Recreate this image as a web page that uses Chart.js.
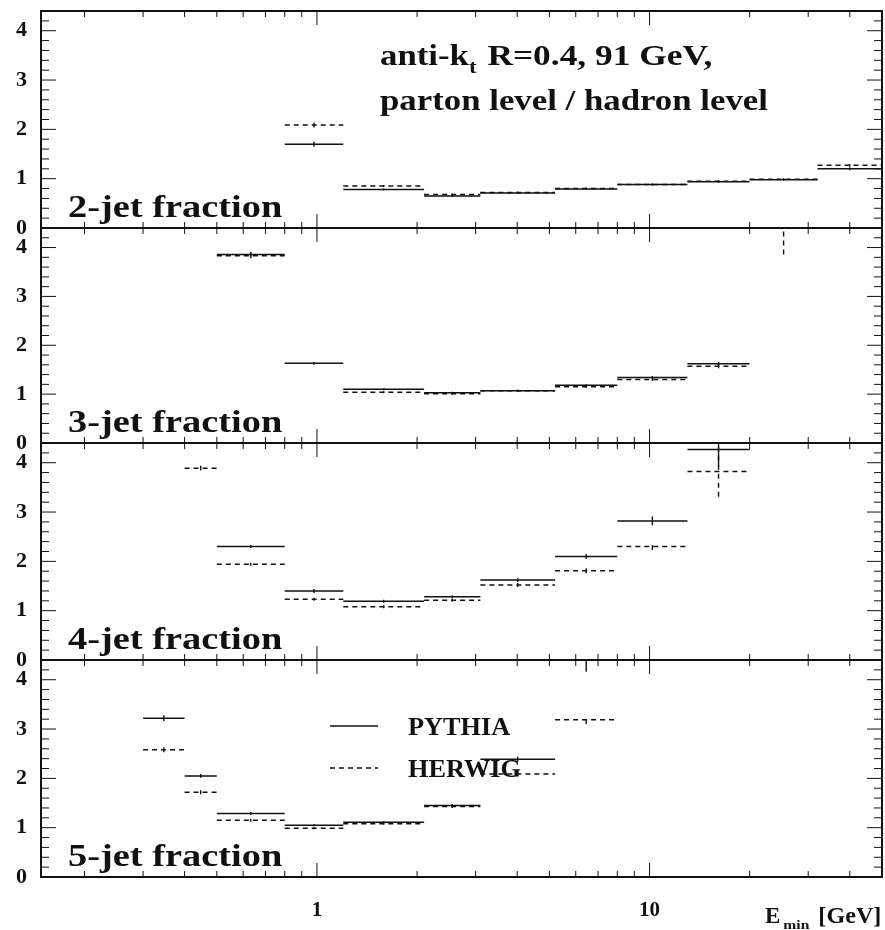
<!DOCTYPE html>
<html>
<head>
<meta charset="utf-8">
<script src="https://cdn.jsdelivr.net/npm/chart.js"></script>
<style>
  body { margin: 0; background: #fff; }
  #wrap { position: relative; width: 885px; height: 930px; }
  #wrap canvas { position: absolute; left: 0; }
</style>
</head>
<body>
<div id="wrap">
  <canvas id="c2"></canvas>
  <canvas id="c3"></canvas>
  <canvas id="c4"></canvas>
  <canvas id="c5"></canvas>
</div>
<script>
  // E_min bin edges in GeV
  const edges = [0.3, 0.4, 0.5, 0.8, 1.2, 2.1, 3.1, 5.2, 8, 13, 20, 32, 50];

  // parton level / hadron level ratios per bin (null = nothing drawn)
  const pythia2 = [null, null, null, 1.70, 0.78, 0.65, 0.71, 0.79, 0.88, 0.94, 0.98, 1.20];
  const herwig2 = [null, null, null, 2.09, 0.85, 0.68, 0.72, 0.80, 0.88, 0.95, 0.99, 1.27];
  const pythia3 = [null, null, 3.86, 1.63, 1.10, 1.03, 1.07, 1.18, 1.34, 1.62, null, null];
  const herwig3 = [null, null, 3.83, null, 1.04, 1.01, 1.07, 1.15, 1.30, 1.57, 4.70, null];
  const pythia4 = [null, null, 2.30, 1.40, 1.19, 1.28, 1.62, 2.10, 2.82, 4.27, null, null];
  const herwig4 = [null, 3.89, 1.94, 1.23, 1.08, 1.21, 1.52, 1.81, 2.30, 3.82, null, null];
  const pythia5 = [3.22, 2.05, 1.29, 1.05, 1.11, 1.45, 2.39, 4.40, null, 0, 0, 0];
  const herwig5 = [2.58, 1.72, 1.15, 0.99, 1.08, 1.43, 2.09, 3.19, null, 0, 0, 0];

  // statistical errors
  const pythiaErr2 = [0, 0, 0, 0.05, 0.02, 0.02, 0.02, 0.02, 0.02, 0.02, 0.02, 0.03];
  const herwigErr2 = [0, 0, 0, 0.05, 0.02, 0.02, 0.02, 0.02, 0.02, 0.02, 0.02, 0.03];
  const pythiaErr3 = [0, 0, 0.05, 0.03, 0.02, 0.02, 0.02, 0.02, 0.03, 0.04, 0, 0];
  const herwigErr3 = [0, 0, 0.05, 0, 0.02, 0.02, 0.02, 0.02, 0.03, 0.04, 0.84, 0];
  const pythiaErr4 = [0, 0, 0.03, 0.04, 0.03, 0.03, 0.04, 0.05, 0.09, 0.35, 0, 0];
  const herwigErr4 = [0, 0.05, 0.03, 0.03, 0.03, 0.03, 0.04, 0.05, 0.07, 0.51, 0, 0];
  const pythiaErr5 = [0.06, 0.04, 0.03, 0.02, 0.02, 0.03, 0.05, 0.24, 0, 0, 0, 0];
  const herwigErr5 = [0.05, 0.04, 0.03, 0.02, 0.02, 0.03, 0.05, 0.09, 0, 0, 0, 0];

  const yTickValues = [0, 1, 2, 3, 4];
  const xTickValues = [1, 10];
  const xMinorValues = [0.2, 0.3, 0.4, 0.5, 0.6, 0.7, 0.8, 0.9, 1, 2, 3, 4, 5, 6, 7, 8, 9, 10, 20, 30, 40];

  const INK = '#111';
  const SERIF = "'Liberation Serif', 'Times New Roman', serif";
  const DASH = [5, 4];

  // panel frame edges on the page
  const panelTop = [11, 228, 443, 660];
  const panelBottom = [228, 443, 660, 877];
  const PAD = 14;

  // horizontal bin segments, broken between bins
  function histPoints(vals) {
    const pts = [];
    vals.forEach((v, i) => {
      if (v === null) return;
      pts.push({ x: edges[i], y: v }, { x: edges[i + 1], y: v }, { x: edges[i + 1], y: null });
    });
    return pts;
  }

  function stretchText(ctx, text, x, y, size, sx) {
    ctx.save();
    ctx.font = 'bold ' + size + 'px ' + SERIF;
    ctx.translate(x, y);
    ctx.scale(sx, 1);
    ctx.fillText(text, 0, 0);
    const w = ctx.measureText(text).width * sx;
    ctx.restore();
    return w;
  }

  // frame with inward ticks on all four sides
  const frameTicks = {
    id: 'frameTicks',
    afterDraw(chart) {
      const { ctx, chartArea: a } = chart;
      const xs = chart.scales.x, ys = chart.scales.y;
      ctx.save();
      ctx.strokeStyle = INK;
      ctx.lineWidth = 1;
      ctx.beginPath();
      for (let k = 0; k <= 22; k++) {
        const v = k / 5;
        const y = ys.getPixelForValue(v);
        const len = k % 5 === 0 ? 15 : 8;
        ctx.moveTo(a.left, y); ctx.lineTo(a.left + len, y);
        ctx.moveTo(a.right, y); ctx.lineTo(a.right - len, y);
      }
      xMinorValues.forEach(v => {
        const x = xs.getPixelForValue(v);
        const len = (v === 1 || v === 10) ? 14 : 6;
        ctx.moveTo(x, a.top); ctx.lineTo(x, a.top + len);
        ctx.moveTo(x, a.bottom); ctx.lineTo(x, a.bottom - len);
      });
      ctx.stroke();
      ctx.lineWidth = 2;
      ctx.strokeRect(a.left, a.top, a.right - a.left, a.bottom - a.top);
      ctx.restore();
    }
  };

  // vertical error bars at the bin centres
  const errorBars = {
    id: 'errorBars',
    afterDatasetsDraw(chart) {
      const { ctx, chartArea: a } = chart;
      const xs = chart.scales.x, ys = chart.scales.y;
      ctx.save();
      ctx.beginPath();
      ctx.rect(a.left, a.top, a.right - a.left, a.bottom - a.top);
      ctx.clip();
      chart.data.datasets.forEach(ds => {
        ctx.strokeStyle = INK;
        ctx.lineWidth = 1.4;
        ctx.setLineDash(ds.borderDash || []);
        ds.values.forEach((v, i) => {
          const e = ds.errors[i];
          if (v === null || !e) return;
          const x = xs.getPixelForValue(Math.sqrt(edges[i] * edges[i + 1]));
          ctx.beginPath();
          ctx.moveTo(x, ys.getPixelForValue(v - e));
          ctx.lineTo(x, ys.getPixelForValue(v + e));
          ctx.stroke();
        });
      });
      ctx.restore();
    }
  };

  // panel name and extra annotations
  const panelText = {
    id: 'panelText',
    afterDraw(chart, args, opts) {
      const { ctx, chartArea: a } = chart;
      ctx.save();
      ctx.fillStyle = INK;
      ctx.textBaseline = 'alphabetic';
      stretchText(ctx, opts.label, a.left + 27, a.bottom - 11, 32, 1.2);

      if (opts.title) {
        let x = a.left + 339;
        const y1 = a.top + 54;
        x += stretchText(ctx, 'anti-k', x, y1, 29, 1.2);
        x += stretchText(ctx, 't', x, y1 + 8, 19, 1.2);
        stretchText(ctx, ' R=0.4, 91 GeV,', x + 2, y1, 29, 1.22);
        stretchText(ctx, 'parton level / hadron level', a.left + 339, a.top + 99, 29, 1.2);
      }

      if (opts.legend) {
        const lx = a.left + 289;
        const rows = [['PYTHIA', [], a.top + 66], ['HERWIG', DASH, a.top + 108]];
        rows.forEach(([name, dash, y]) => {
          ctx.strokeStyle = INK;
          ctx.lineWidth = 1.4;
          ctx.setLineDash(dash);
          ctx.beginPath();
          ctx.moveTo(lx, y); ctx.lineTo(lx + 48, y);
          ctx.stroke();
          ctx.setLineDash([]);
          stretchText(ctx, name, lx + 78, y + 9, 25, 1.05);
        });
      }

      if (opts.axisTitle) {
        const y = a.bottom + 46;
        let x = a.left + 724;
        x += stretchText(ctx, 'E', x, y, 23, 1);
        x += stretchText(ctx, 'min', x + 3, y + 6, 12, 1.3);
        stretchText(ctx, '[GeV]', x + 12, y, 23, 1.05);
      }
      ctx.restore();
    }
  };

  function makePanel(id, idx, pythia, herwig, pErr, hErr, extra) {
    const isBottom = idx === 3;
    const canvas = document.getElementById(id);
    const top = panelTop[idx] - PAD;
    const height = isBottom ? 930 - top : panelBottom[idx] - panelTop[idx] + 2 * PAD;
    canvas.width = 885;
    canvas.height = height;
    canvas.style.top = top + 'px';

    return new Chart(canvas, {
      type: 'line',
      data: {
        datasets: [
          {
            label: 'PYTHIA',
            data: histPoints(pythia),
            values: pythia,
            errors: pErr,
            borderColor: INK,
            borderWidth: 1.5,
            pointRadius: 0,
            spanGaps: false,
            tension: 0
          },
          {
            label: 'HERWIG',
            data: histPoints(herwig),
            values: herwig,
            errors: hErr,
            borderColor: INK,
            borderWidth: 1.5,
            borderDash: DASH,
            pointRadius: 0,
            spanGaps: false,
            tension: 0
          }
        ]
      },
      options: {
        responsive: false,
        animation: false,
        events: [],
        layout: { padding: { top: PAD, bottom: isBottom ? 0 : PAD, left: 0, right: 3 } },
        plugins: {
          legend: { display: false },
          tooltip: { enabled: false },
          panelText: extra
        },
        scales: {
          x: {
            type: 'logarithmic',
            min: 0.148,
            max: 50,
            display: isBottom,
            grid: { display: false, drawTicks: false },
            border: { display: false },
            ticks: {
              color: INK,
              padding: 21,
              maxRotation: 0,
              font: { family: SERIF, weight: 'bold', size: 21 },
              callback: v => String(v)
            },
            afterBuildTicks: s => { s.ticks = xTickValues.map(v => ({ value: v })); },
            afterFit: s => {
              if (isBottom) s.height = 53;
              s.paddingLeft = 0;
              s.paddingRight = 0;
            }
          },
          y: {
            min: 0,
            max: 4.4,
            grid: { display: false, drawTicks: false },
            border: { display: false },
            ticks: {
              color: INK,
              padding: 14,
              font: { family: SERIF, weight: 'bold', size: 22 }
            },
            afterBuildTicks: s => { s.ticks = yTickValues.map(v => ({ value: v })); },
            afterFit: s => { s.width = 41; s.paddingTop = 0; s.paddingBottom = 0; }
          }
        }
      },
      plugins: [errorBars, frameTicks, panelText]
    });
  }

  makePanel('c2', 0, pythia2, herwig2, pythiaErr2, herwigErr2, { label: '2-jet fraction', title: true });
  makePanel('c3', 1, pythia3, herwig3, pythiaErr3, herwigErr3, { label: '3-jet fraction' });
  makePanel('c4', 2, pythia4, herwig4, pythiaErr4, herwigErr4, { label: '4-jet fraction' });
  makePanel('c5', 3, pythia5, herwig5, pythiaErr5, herwigErr5, { label: '5-jet fraction', legend: true, axisTitle: true });
</script>
</body>
</html>
